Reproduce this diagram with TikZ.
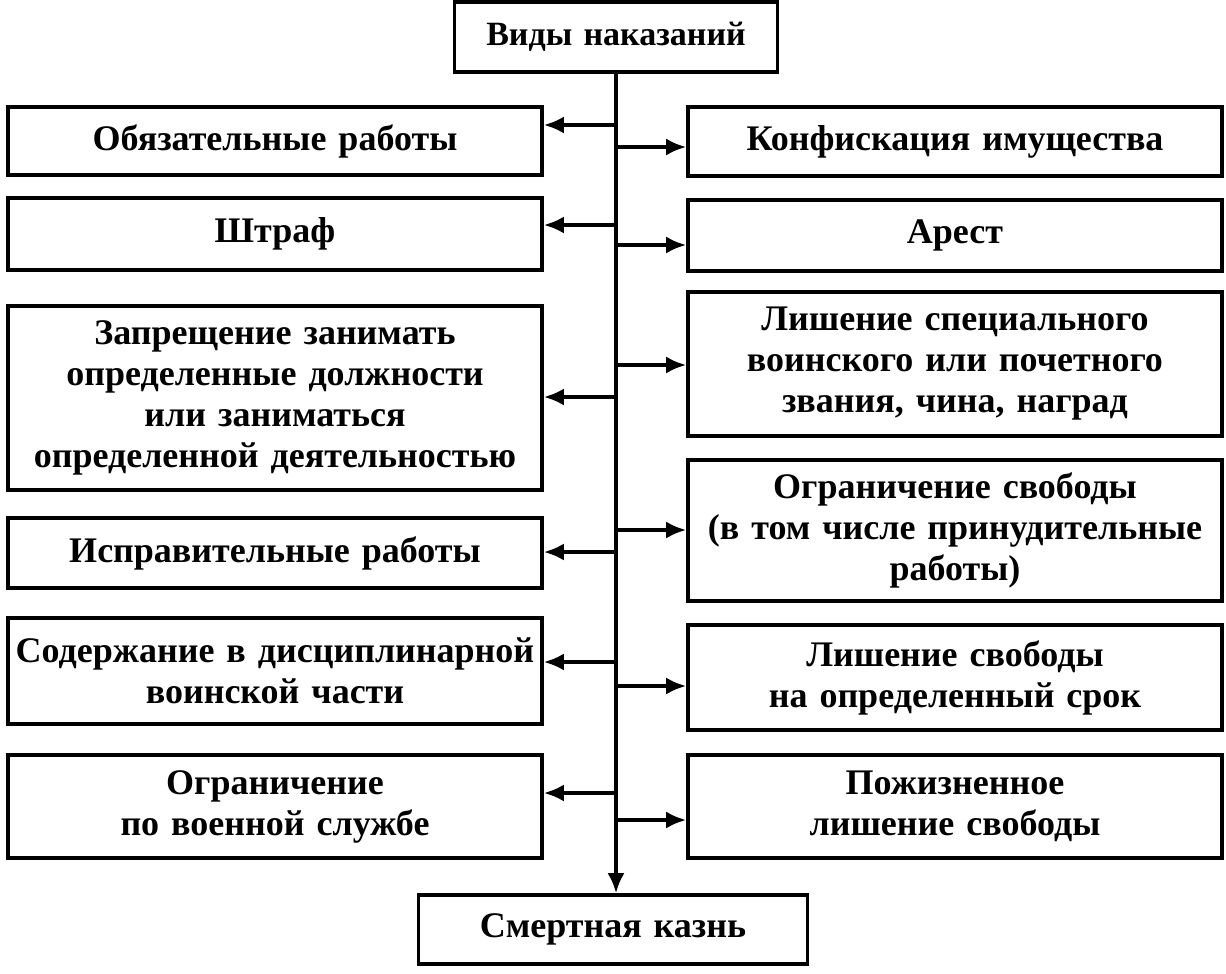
\documentclass[tikz,border=0pt]{standalone}
\usepackage{fontspec}
\setmainfont{Liberation Serif}
\usetikzlibrary{arrows.meta}
\begin{document}
\begin{tikzpicture}[x=1pt,y=-1pt,
  box/.style={draw, line width=3.6pt, align=center, inner sep=0pt,
    font=\fontsize{36}{41}\selectfont\bfseries, text width=#1},
  box/.default=532pt,
  arr/.style={line width=3.6pt, -{Latex[length=20pt,width=17pt]}}]
\useasboundingbox (0,0) rectangle (1226,974);
\node[box=315pt, minimum width=323pt, minimum height=70pt, font=\fontsize{34}{38}\selectfont\bfseries] (top) at (616,37) {Виды наказаний};
\node[box=380pt, minimum width=389pt, minimum height=69pt] (bot) at (613,929.5) {Смертная казнь};
% left
\node[box, minimum width=534pt, minimum height=68pt] (l1) at (275,141) {Обязательные работы};
\node[box, minimum width=534pt, minimum height=72pt] (l2) at (275,234) {Штраф};
\node[box, minimum width=534pt, minimum height=184pt] (l3) at (275,398) {Запрещение занимать\\определенные должности\\или заниматься\\определенной деятельностью};
\node[box, minimum width=534pt, minimum height=70pt] (l4) at (275,553) {Исправительные работы};
\node[box, minimum width=534pt, minimum height=106pt] (l5) at (275,671) {Содержание в дисциплинарной\\воинской части};
\node[box, minimum width=534pt, minimum height=103pt] (l6) at (275,806.5) {Ограничение\\по военной службе};
% right
\node[box, minimum width=534pt, minimum height=69pt] (r1) at (955,141.5) {Конфискация имущества};
\node[box, minimum width=534pt, minimum height=71pt] (r2) at (955,235.5) {Арест};
\node[box, minimum width=534pt, minimum height=144pt] (r3) at (955,364) {Лишение специального\\воинского или почетного\\звания, чина, наград};
\node[box, minimum width=534pt, minimum height=141pt] (r4) at (955,530.5) {Ограничение свободы\\(в том числе принудительные\\работы)};
\node[box, minimum width=534pt, minimum height=105pt] (r5) at (955,677.5) {Лишение свободы\\на определенный срок};
\node[box, minimum width=534pt, minimum height=103pt] (r6) at (955,806.5) {Пожизненное\\лишение свободы};
% trunk
\coordinate (tb) at (top.south);
\draw[arr] (tb) -- (tb |- bot.north);
\foreach \n/\y in {l1/125, l2/225, l3/397, l4/552, l5/662, l6/793}{
  \coordinate (c\n) at (614,\y);
  \draw[arr] (c\n) -- (c\n -| \n.east);
}
\foreach \n/\y in {r1/147, r2/245, r3/365, r4/530, r5/686, r6/820}{
  \coordinate (c\n) at (614,\y);
  \draw[arr] (c\n) -- (c\n -| \n.west);
}
\end{tikzpicture}
\end{document}
